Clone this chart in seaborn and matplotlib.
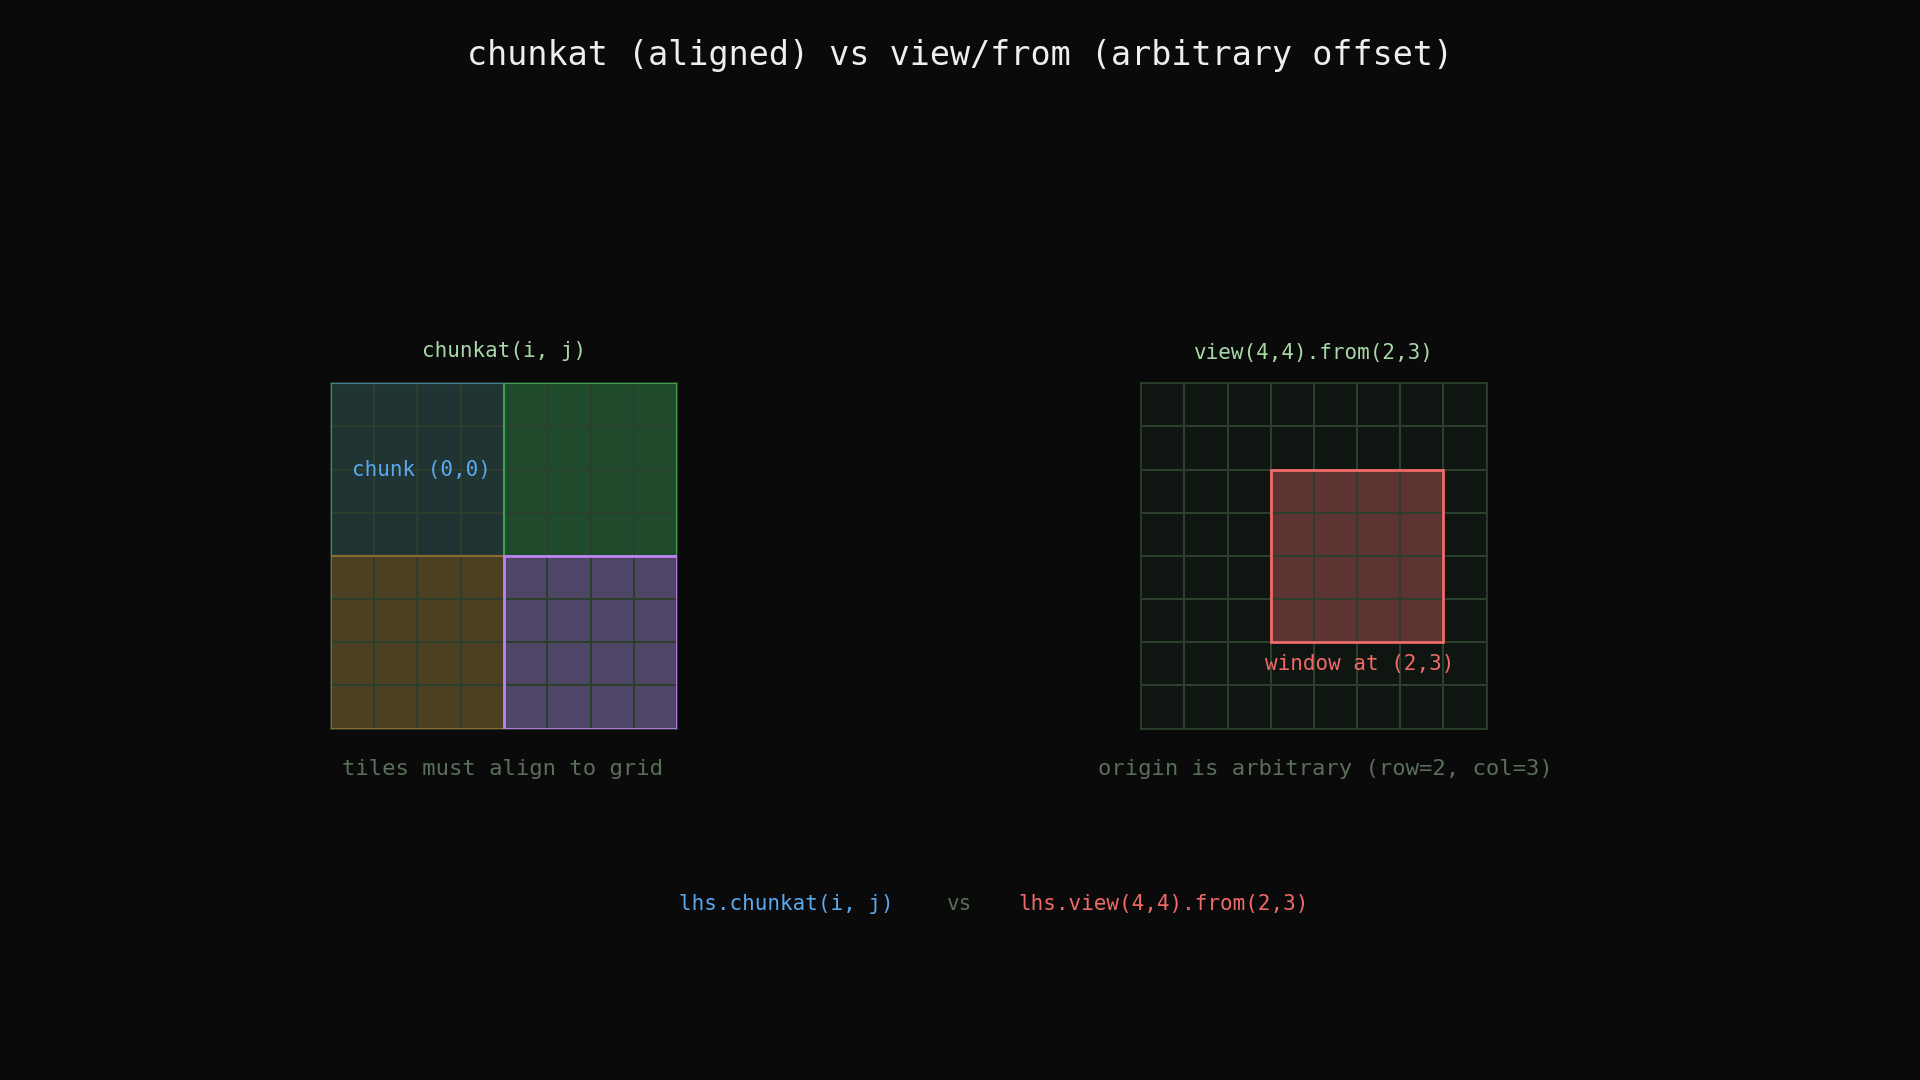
import numpy as np
import matplotlib
matplotlib.use("Agg")
import matplotlib.pyplot as plt
from matplotlib.colors import ListedColormap
from matplotlib.patches import Rectangle
import seaborn as sns

sns.set_theme(style="dark")
plt.rcParams['font.family'] = ['DejaVu Sans Mono']

BG = "#0a0a0a"
GRID_N = 8
CHUNK = 4
chunk_ids = [[0, 1], [2, 3]]
chunk_fill = ["#1f3433", "#1f4a2b", "#4b4022", "#4f4566"]
chunk_edge = ["#3f7fa0", "#3fa050", "#8a6a30", "#c080f0"]
view_size = (4, 4)
view_from = (2, 3)

left_matrix = np.array([[chunk_ids[r // CHUNK][c // CHUNK] for c in range(GRID_N)] for r in range(GRID_N)])
right_matrix = np.zeros((GRID_N, GRID_N), dtype=int)
right_matrix[view_from[0]:view_from[0] + view_size[0], view_from[1]:view_from[1] + view_size[1]] = 1

fig = plt.figure(figsize=(19.2, 10.8), dpi=100, facecolor=BG)
W, H = 1568, 882
def ax_at(x0, y0, x1, y1):
    return fig.add_axes([x0 / W, 1 - y1 / H, (x1 - x0) / W, (y1 - y0) / H])

GRIDC = "#2c3f2c"
axL = ax_at(270, 313, 553, 595)
sns.heatmap(left_matrix, ax=axL, cmap=ListedColormap(chunk_fill), vmin=-0.5, vmax=3.5,
            cbar=False, linewidths=1.2, linecolor=GRIDC, xticklabels=False, yticklabels=False)
for r in range(2):
    for c in range(2):
        k = chunk_ids[r][c]
        axL.add_patch(Rectangle((c * CHUNK, r * CHUNK), CHUNK, CHUNK, fill=False,
                                edgecolor=chunk_edge[k], lw=2 if k == 3 else 1.5, zorder=5))
axL.text(2.1, 2.0, "chunk (0,0)", color="#5aa8f0", fontsize=15, ha="center", va="center")

axR = ax_at(932, 313, 1214, 595)
sns.heatmap(right_matrix, ax=axR, cmap=ListedColormap(["#0f1511", "#5e3432"]), vmin=-0.5, vmax=1.5,
            cbar=False, linewidths=1.2, linecolor=GRIDC, xticklabels=False, yticklabels=False)
axR.add_patch(Rectangle((view_from[1], view_from[0]), view_size[1], view_size[0], fill=False,
                        edgecolor="#f06a6a", lw=2, zorder=5))
axR.text(5.05, 6.5, "window at (2,3)", color="#f06a6a", fontsize=15, ha="center", va="center")
for ax in (axL, axR):
    for s in ax.spines.values():
        s.set_visible(True); s.set_color(GRIDC)

def t(x, y, s, c, fs, **kw):
    fig.text(x / W, 1 - y / H, s, color=c, fontsize=fs, ha="center", va="center", **kw)

t(784, 45, "chunkat (aligned) vs view/from (arbitrary offset)", "#eeeeee", 24)
t(412, 287, "chunkat(i, j)", "#a8d8a8", 15)
t(1073, 288, "view(4,4).from(2,3)", "#a8d8a8", 15)
t(410, 628, "tiles must align to grid", "#5a6e5a", 16)
t(1082, 628, "origin is arbitrary (row=2, col=3)", "#5a6e5a", 16)
t(642, 738, "lhs.chunkat(i, j)", "#5aa8f0", 15)
t(784, 738, "vs", "#5a6e5a", 15)
t(950, 738, "lhs.view(4,4).from(2,3)", "#f06a6a", 15)

fig.savefig("out.png", dpi=100, facecolor=BG)
